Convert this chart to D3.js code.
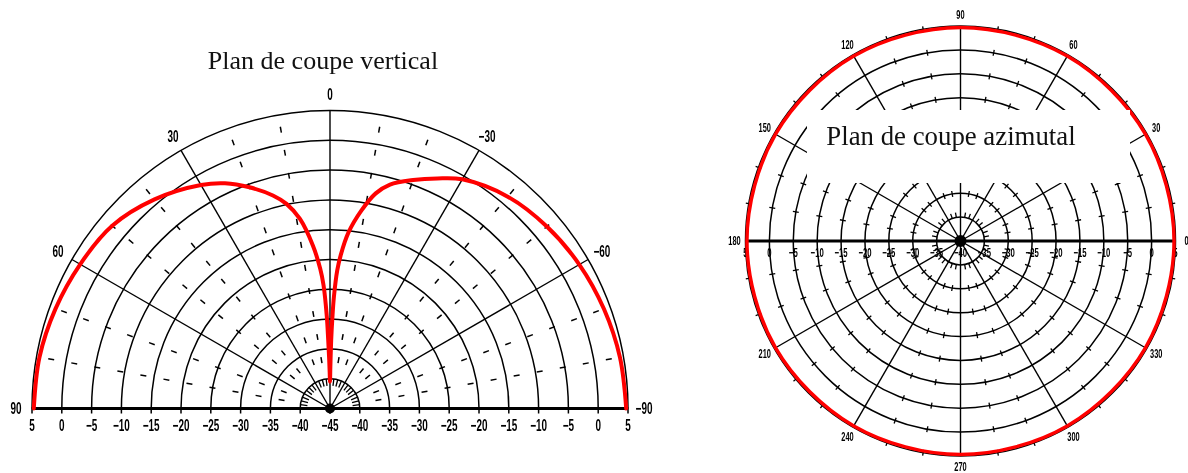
<!DOCTYPE html>
<html>
<head>
<meta charset="utf-8">
<script src="https://cdn.jsdelivr.net/npm/d3@7"></script>
<style>
  html, body { margin: 0; padding: 0; background: #fff; }
  svg { display: block; will-change: transform; }
  .lbl { font-family: "Liberation Sans", Arial, sans-serif; font-weight: bold; fill: #000;
         -webkit-font-smoothing: antialiased; }
  .ttl { font-family: "Liberation Serif", "Times New Roman", serif; fill: #111; }
</style>
</head>
<body>
<svg id="chart" width="1188" height="473"></svg>
<script>
// Vertical cut: elevation angle (deg, positive to the left) and gain (dB)
const elevAngles = [90, 80, 70, 60, 50, 40, 30, 25, 20, 15, 12, 9, 6, 4, 3, 2, 1.5, 1, 0.5, 0,
  -0.5, -1, -1.5, -2, -3, -4, -6, -9, -12, -15, -20, -25, -30, -40, -50, -60, -70, -80, -90];
const elevGain = [4.7, 4.5, 4.0, 3.4, 2.7, 0.8, -1.7, -3.3, -5.5, -8.0, -9.9, -12.8, -17.5, -21.5, -24.3, -29.5, -33.5, -36.5, -39.0, -40.5,
  -38.0, -33.5, -29.8, -26.3, -21.8, -19.2, -15.3, -11.4, -8.1, -6.1, -4.2, -2.4, -0.6, 1.4, 2.5, 3.3, 3.9, 4.4, 4.7];

// Azimuth cut: azimuth (deg) and gain (dB)
const azAngles = [0, 30, 60, 90, 120, 150, 180, 210, 240, 270, 300, 330];
const azGain = [4.7, 4.7, 4.7, 4.7, 4.7, 4.7, 4.7, 4.7, 4.7, 4.7, 4.7, 4.7];

// Grid rings and tick labels
const vertRingDb = [-40, -35, -30, -25, -20, -15, -10, -5, 0, 5];
const vertCenterDb = -45;
const vertAngleTicks = [90, 60, 30, 0, -30, -60, -90];
const azRingDb = [-35, -30, -25, -20, -15, -10, -5, 0, 5];
const azCenterDb = -40;
const azAngleTicks = [0, 30, 60, 90, 120, 150, 180, 210, 240, 270, 300, 330];

const titles = ["Plan de coupe vertical", "Plan de coupe azimutal"];

const svg = d3.select("#chart");
const rad = d => d * Math.PI / 180;
const fmt = v => (v < 0 ? "\u2212" + Math.abs(v) : String(v));

// condensed label helper
function label(g, x, y, txt, size, sx) {
  g.append("text")
    .attr("class", "lbl")
    .attr("transform", `translate(${x},${y}) scale(${sx},1)`)
    .attr("text-anchor", "middle")
    .attr("dominant-baseline", "central")
    .style("font-size", size + "px")
    .text(txt);
}

/* ---------------- Vertical cut (half polar) ---------------- */
{
  const cx = 330, cy = 408.5;
  const rV = d3.scaleLinear().domain([vertCenterDb, 5]).range([0, 298]);
  const R = rV(5);
  const g = svg.append("g").attr("transform", `translate(${cx},${cy})`);

  // rings
  vertRingDb.forEach(d => {
    const p = d3.path();
    p.arc(0, 0, rV(d), Math.PI, 2 * Math.PI);
    g.append("path").attr("d", p.toString()).attr("fill", "none")
      .attr("stroke", "#000").attr("stroke-width", 1.5);
  });

  // radial spokes
  [0, 30, -30, 60, -60].forEach(a => {
    const t = -rad(a);
    g.append("line").attr("x1", 0).attr("y1", 0)
      .attr("x2", R * Math.sin(t)).attr("y2", -R * Math.cos(t))
      .attr("stroke", "#000").attr("stroke-width", 1.4);
  });

  // short radial dashes between spokes
  const dashR = d3.range(11).map(k => R * 0.95 - k * R * 0.0785);
  [10, 20, 40, 50, 70, 80].forEach(a => {
    [a, -a].forEach(s => {
      const t = -rad(s);
      dashR.forEach(r => {
        g.append("line")
          .attr("x1", (r - 3) * Math.sin(t)).attr("y1", -(r - 3) * Math.cos(t))
          .attr("x2", (r + 3) * Math.sin(t)).attr("y2", -(r + 3) * Math.cos(t))
          .attr("stroke", "#000").attr("stroke-width", 1.5);
      });
    });
  });

  // inward ticks on the innermost ring
  const r0 = rV(vertRingDb[0]);
  d3.range(-82.5, 90, 7.5).filter(a => Math.abs(a % 30) > 0.01).forEach(a => {
    const t = -rad(a);
    g.append("line")
      .attr("x1", (r0 - 7) * Math.sin(t)).attr("y1", -(r0 - 7) * Math.cos(t))
      .attr("x2", r0 * Math.sin(t)).attr("y2", -r0 * Math.cos(t))
      .attr("stroke", "#000").attr("stroke-width", 1.3);
  });

  // base axis
  g.append("line").attr("x1", -R).attr("y1", 0).attr("x2", R).attr("y2", 0)
    .attr("stroke", "#000").attr("stroke-width", 3.2);
  [0].concat(vertRingDb.map(rV)).forEach(r => {
    [r, -r].forEach(x => {
      g.append("line").attr("x1", x).attr("y1", -1).attr("x2", x).attr("y2", 5)
        .attr("stroke", "#000").attr("stroke-width", 1.5);
    });
  });

  // scale labels along the base
  label(g, 0, 17, fmt(vertCenterDb), 16, 0.62);
  vertRingDb.forEach(d => {
    label(g, -rV(d), 17, fmt(d), 16, 0.62);
    label(g, rV(d), 17, fmt(d), 16, 0.62);
  });

  // angle labels
  vertAngleTicks.forEach(a => {
    const t = -rad(a), rl = R + 16;
    label(g, rl * Math.sin(t), -rl * Math.cos(t), fmt(a), 16, 0.62);
  });

  // centre dot
  g.append("circle").attr("r", 5).attr("fill", "#000");

  // pattern
  const data = elevAngles.map((a, i) => ({ a, g: elevGain[i] }));
  const line = d3.lineRadial()
    .angle(d => -rad(d.a))
    .radius(d => rV(d.g))
    .curve(d3.curveCatmullRom.alpha(0.5));
  g.append("path").attr("d", line(data)).attr("fill", "none")
    .attr("stroke", "#f00").attr("stroke-width", 4)
    .attr("stroke-linejoin", "round").attr("stroke-linecap", "round");

  svg.append("text").attr("class", "ttl")
    .attr("x", 323).attr("y", 69).attr("text-anchor", "middle")
    .style("font-size", "26px").text(titles[0]);
}

/* ---------------- Azimuth cut (full polar) ---------------- */
{
  const cx = 960.5, cy = 241;
  const rA = d3.scaleLinear().domain([azCenterDb, 5]).range([0, 215]);
  const R = rA(5);
  const g = svg.append("g").attr("transform", `translate(${cx},${cy})`);
  const pt = (az, r) => [r * Math.cos(rad(az)), -r * Math.sin(rad(az))];

  // rings
  azRingDb.forEach(d => {
    g.append("circle").attr("r", rA(d)).attr("fill", "none")
      .attr("stroke", "#000").attr("stroke-width", 1.5);
  });

  // ring ticks every 10 degrees (outward on the innermost ring)
  azRingDb.forEach((d, i) => {
    const r = rA(d);
    const lo = i === 0 ? r : r - 3, hi = i === 0 ? r + 5 : r + 3;
    d3.range(0, 360, 10).filter(a => a % 30 !== 0).forEach(a => {
      const [x1, y1] = pt(a, lo), [x2, y2] = pt(a, hi);
      g.append("line").attr("x1", x1).attr("y1", y1).attr("x2", x2).attr("y2", y2)
        .attr("stroke", "#000").attr("stroke-width", 1.3);
    });
  });

  // spokes
  azAngleTicks.filter(a => a !== 0 && a !== 180).forEach(a => {
    const [x, y] = pt(a, R);
    g.append("line").attr("x1", 0).attr("y1", 0).attr("x2", x).attr("y2", y)
      .attr("stroke", "#000").attr("stroke-width", 1.4);
  });
  g.append("line").attr("x1", -R).attr("y1", 0).attr("x2", R).attr("y2", 0)
    .attr("stroke", "#000").attr("stroke-width", 3);

  // scale labels along the horizontal axis
  label(g, 0, 12, fmt(azCenterDb), 12.5, 0.62);
  azRingDb.forEach(d => {
    label(g, -rA(d), 12, fmt(d), 12.5, 0.62);
    label(g, rA(d), 12, fmt(d), 12.5, 0.62);
  });

  // angle labels
  azAngleTicks.forEach(a => {
    const [x, y] = pt(a, R + 11);
    label(g, x, y, fmt(a), 12, 0.62);
  });

  g.append("circle").attr("r", 6).attr("fill", "#000");

  // title panel
  svg.append("rect").attr("x", 807).attr("y", 110).attr("width", 323).attr("height", 73)
    .attr("fill", "#fff");
  svg.append("text").attr("class", "ttl")
    .attr("x", 951).attr("y", 144.5).attr("text-anchor", "middle")
    .style("font-size", "26.8px").text(titles[1]);

  // pattern
  const data = azAngles.map((a, i) => ({ a, g: azGain[i] }));
  const line = d3.lineRadial()
    .angle(d => rad(90 - d.a))
    .radius(d => rA(d.g))
    .curve(d3.curveCatmullRomClosed.alpha(0.5));
  g.append("path").attr("d", line(data)).attr("fill", "none")
    .attr("stroke", "#f00").attr("stroke-width", 3.5);
}
</script>
</body>
</html>
